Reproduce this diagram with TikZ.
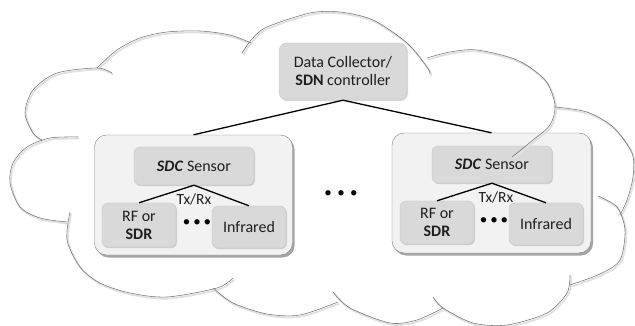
\documentclass[tikz,border=0pt]{standalone}
\usepackage{fontspec}
\setmainfont{Carlito}
\usetikzlibrary{shadows}
\begin{document}
\begin{tikzpicture}[x=1pt,y=-1pt,
  every node/.style={font=\fontsize{16}{18}\selectfont, text=black!88, align=center, inner sep=1pt},
  unitbox/.style={draw=black!50, fill=black!5, rounded corners=12pt,
    minimum width=198pt, minimum height=120pt,
    drop shadow={shadow xshift=2pt, shadow yshift=-2.5pt, opacity=0.5, fill=black!70}},
  partbox/.style={draw=black!22, fill=black!15, rounded corners=6pt,
    drop shadow={shadow xshift=1pt, shadow yshift=-1.2pt, opacity=0.25, fill=black!60}},
  link/.style={line width=1.3pt, black},
  txrx/.style={font=\fontsize{15.5}{15.5}\selectfont},
  dotrow/.style={font=\fontsize{15}{15}\selectfont, text=black},
  cloudline/.style={draw=black!55, line width=0.55pt},
  cloudshade/.style={draw=black!12, line width=1.8pt, shift={(1.2,1.6)}},
]
\useasboundingbox (0,0) rectangle (635,326);

% collector at the top
\node[partbox, fill=black!15, rounded corners=8pt, minimum width=128pt, minimum height=57pt]
  (top) at (343,71.5) {Data Collector/\\\textbf{SDN} controller};

% left sensor unit
\node[unitbox] (luni) at (193.5,195) {};
\node[partbox, minimum width=120pt, minimum height=38pt] (lsdc) at (194,166)
  {\textbf{\textit{SDC}} Sensor};
\node[partbox, minimum width=74pt, minimum height=44pt] (lrf) at (139,225)
  {RF or\\\textbf{SDR}};
\node[partbox, minimum width=74pt, minimum height=42pt] (lir) at (249,227) {Infrared};
\node[txrx] (ltx) at (194,199) {Tx/Rx};
\node[dotrow] (ldots) at (197,223) {•\hspace{3pt}•\hspace{3pt}•};

% right sensor unit
\node[unitbox, minimum width=199pt] (runi) at (491.5,193) {};
\node[partbox, minimum width=120pt, minimum height=37pt] (rsdc) at (492,164.5)
  {\textbf{\textit{SDC}} Sensor};
\node[partbox, minimum width=74pt, minimum height=43pt] (rrf) at (437,222.5)
  {RF or\\\textbf{SDR}};
\node[partbox, minimum width=74pt, minimum height=42pt] (rir) at (546,224) {Infrared};
\node[txrx] (rtx) at (496,197) {Tx/Rx};
\node[dotrow] (rdots) at (494,221) {•\hspace{3pt}•\hspace{3pt}•};

% units in between
\node[dotrow] (mdots) at (341,194) {•\hspace{5.5pt}•\hspace{5.5pt}•};

% links
\draw[link] (top.south) -- (luni.north);
\draw[link] (top.south) -- (runi.north);
\draw[link] (lsdc.south) -- (lrf.north);
\draw[link] (lsdc.south) -- (lir.north);
\draw[link] (rsdc.south) -- (rrf.north);
\draw[link] (rsdc.south) -- (rir.north);

% cloud outline, one arc per bump
\def\cloudarcs{%
  \draw[cloudstyle] plot[smooth] coordinates {(97,68) (117,50) (140,38) (167,32) (200,31) (230,35) (251,43)};
  \draw[cloudstyle] plot[smooth] coordinates {(242,53) (252,39) (267,27) (310,13) (340,12) (373,20) (407,43) (427,67) (430,74)};
  \draw[cloudstyle] plot[smooth] coordinates {(427,58) (450,52) (477,50) (517,60) (545,80) (555,105) (550,125) (533,140) (512,157)};
  \draw[cloudstyle] plot[smooth] coordinates {(555,107) (587,112) (613,127) (632,153) (633,177) (627,200) (620,215)};
  \draw[cloudstyle] plot[smooth] coordinates {(598,196) (617,207) (625,230) (620,260) (600,274) (570,285)};
  \draw[cloudstyle] plot[smooth] coordinates {(433,297) (443,308) (473,323) (507,325) (547,313) (567,293) (570,275)};
  \draw[cloudstyle] plot[smooth] coordinates {(333,292) (350,308) (390,323) (417,320) (443,308)};
  \draw[cloudstyle] plot[smooth] coordinates {(213,288) (233,303) (267,314) (300,315) (338,302)};
  \draw[cloudstyle] plot[smooth] coordinates {(70,212) (67,240) (80,267) (100,283) (130,293) (167,297) (217,288) (233,278)};
  \draw[cloudstyle] plot[smooth] coordinates {(78,137) (50,138) (27,147) (13,163) (10,183) (20,207) (40,218) (67,222)};
  \draw[cloudstyle] plot[smooth] coordinates {(112,73) (97,68) (57,73) (33,90) (25,113) (33,133) (42,140)};
}
\begin{scope}[cloudstyle/.style={cloudshade}]
  \cloudarcs
\end{scope}
\begin{scope}[cloudstyle/.style={cloudline}]
  \cloudarcs
\end{scope}
\end{tikzpicture}
\end{document}
